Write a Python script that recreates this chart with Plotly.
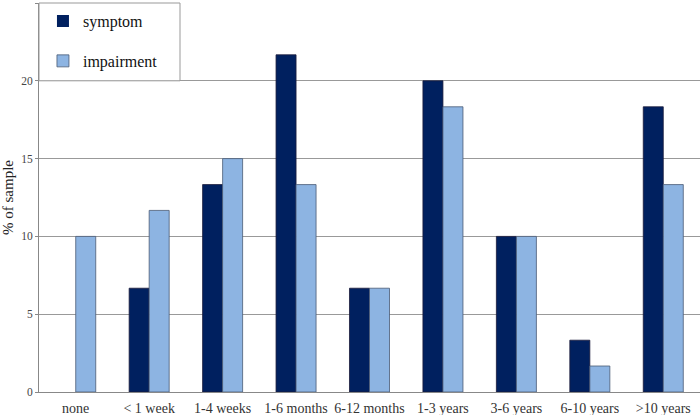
import plotly.graph_objects as go

categories = ["none", "< 1 week", "1-4 weeks", "1-6 months", "6-12 months",
              "1-3 years", "3-6 years", "6-10 years", ">10 years"]
symptom = [0, 6.67, 13.33, 21.67, 6.67, 20.0, 10.0, 3.33, 18.33]
impairment = [10.0, 11.67, 15.0, 13.33, 6.67, 18.33, 10.0, 1.67, 13.33]
y_ticks = [0, 5, 10, 15, 20, 25]

serif = "Liberation Serif"

fig = go.Figure()
fig.add_trace(go.Bar(x=categories, y=symptom, name="symptom", legendgroup="a",
                     marker=dict(color="#00205F",
                                 line=dict(color="#1a1a3a",
                                           width=[0 if v == 0 else 0.8 for v in symptom]))))
fig.add_trace(go.Bar(x=categories, y=impairment, name="impairment", legendgroup="b",
                     marker=dict(color="#8DB4E2", line=dict(color="#4a5a75", width=0.8))))

# legend frame
fig.add_shape(type="rect", xref="paper", yref="paper", x0=0, x1=141 / 661, y0=0.8, y1=1,
              line=dict(color="#999", width=1), fillcolor="white", layer="above")

fig.update_layout(
    width=700, height=415,
    margin=dict(l=39, r=0, t=3, b=23),
    paper_bgcolor="white", plot_bgcolor="white",
    barmode="group", bargap=0.455, bargroupgap=0,
    font=dict(family=serif, size=11, color="#333"),
    showlegend=True,
    legend=dict(x=0.006, y=0.997, xanchor="left", yanchor="top",
                bgcolor="rgba(0,0,0,0)", borderwidth=0,
                font=dict(family=serif, size=16, color="#111"),
                itemwidth=30, tracegroupgap=16),
)
fig.update_xaxes(showgrid=False, showline=True, linecolor="#888", linewidth=1,
                 ticks="outside", ticklen=3, tickcolor="white", automargin=False,
                 tickfont=dict(family=serif, size=14, color="#333"))
fig.update_yaxes(range=[0, 25], tickvals=y_ticks, showgrid=True, gridcolor="#999",
                 gridwidth=1, showline=True, linecolor="#888", linewidth=1,
                 ticks="outside", ticklen=3, tickcolor="#888", automargin=False,
                 title=dict(text="% of sample", font=dict(family=serif, size=15, color="#222"),
                            standoff=3),
                 tickfont=dict(family=serif, size=11.5, color="#444"), zeroline=False)

fig.write_html("out.html", config={"displayModeBar": False},
               post_script="document.body.style.margin='0';")
